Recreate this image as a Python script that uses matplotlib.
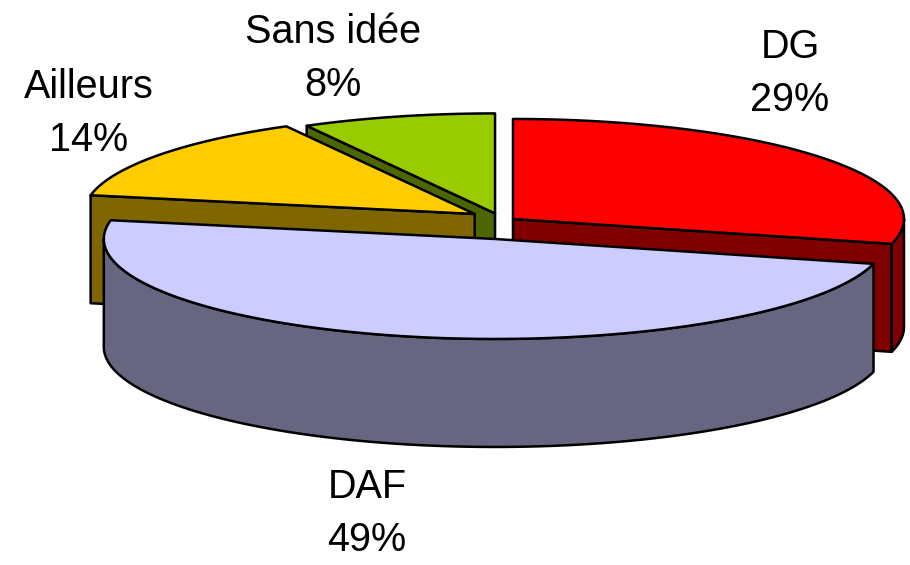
import numpy as np
import matplotlib.pyplot as plt
from matplotlib.patches import Polygon

# parts (Excel order: clockwise from 12 o'clock)
labels = ['DG', 'DAF', 'Ailleurs', 'Sans idée']
values = [29, 49, 14, 8]
top_colors = ['#FF0000', '#CCCCFF', '#FFCC00', '#99CC00']
side_colors = ['#800000', '#666680', '#806600', '#4C6600']
explode = [0.042, 0.061, 0.08, 0.051]

# 3d pie geometry, in pixels
CX, CY = 500, 225
RX, RY = 391, 100
DEPTH = 108
VSHIFT = 0.6  # vertical squash of the explode offset

# label anchors (x, baseline of the first line)
label_pos = [(790, 58), (367, 498), (89, 98), (333, 43)]
LINE_STEP = 53
FONT = 28.5

fig = plt.figure(figsize=(9.1, 5.65), dpi=100)
ax = fig.add_axes([0, 0, 1, 1])
ax.set_xlim(0, 910)
ax.set_ylim(565, 0)
ax.axis('off')

total = float(sum(values))
bounds = np.concatenate([[0], np.cumsum(values)]) / total * 2 * np.pi


def arc(cx, cy, t0, t1, n=120):
    t = np.linspace(t0, t1, n)
    return np.column_stack([cx + RX * np.sin(t), cy - RY * np.cos(t)])


def face(pts, color):
    ax.add_patch(Polygon(pts, closed=True, facecolor=color, edgecolor='black',
                         linewidth=1.8, joinstyle='round'))


# back slices first, the big front one last
order = [3, 2, 0, 1]
for i in order:
    t0, t1 = bounds[i], bounds[i + 1]
    tm = (t0 + t1) / 2
    d = explode[i] * RX
    cx = CX + d * np.sin(tm)
    cy = CY - d * VSHIFT * np.cos(tm)
    down = np.array([0, DEPTH])
    apex = np.array([cx, cy])

    # flat cut faces that look towards the viewer
    for t, normal in ((t0, t0 - np.pi / 2), (t1, t1 + np.pi / 2)):
        if np.cos(normal) < -1e-6:
            rim = np.array([cx + RX * np.sin(t), cy - RY * np.cos(t)])
            face([apex, rim, rim + down, apex + down], side_colors[i])

    # rounded outer wall, front half only
    a0, a1 = max(t0, np.pi / 2), min(t1, 3 * np.pi / 2)
    if a1 > a0:
        top_edge = arc(cx, cy, a0, a1)
        face(np.vstack([top_edge, top_edge[::-1] + down]), side_colors[i])

    # top
    face(np.vstack([apex, arc(cx, cy, t0, t1)]), top_colors[i])

for i, name in enumerate(labels):
    x, y = label_pos[i]
    pct = '{:.0f}%'.format(values[i] / total * 100)
    ax.text(x, y, name, ha='center', va='baseline', fontsize=FONT,
            family='Liberation Sans')
    ax.text(x, y + LINE_STEP, pct, ha='center', va='baseline', fontsize=FONT,
            family='Liberation Sans')

fig.savefig('out.png', dpi=100)
